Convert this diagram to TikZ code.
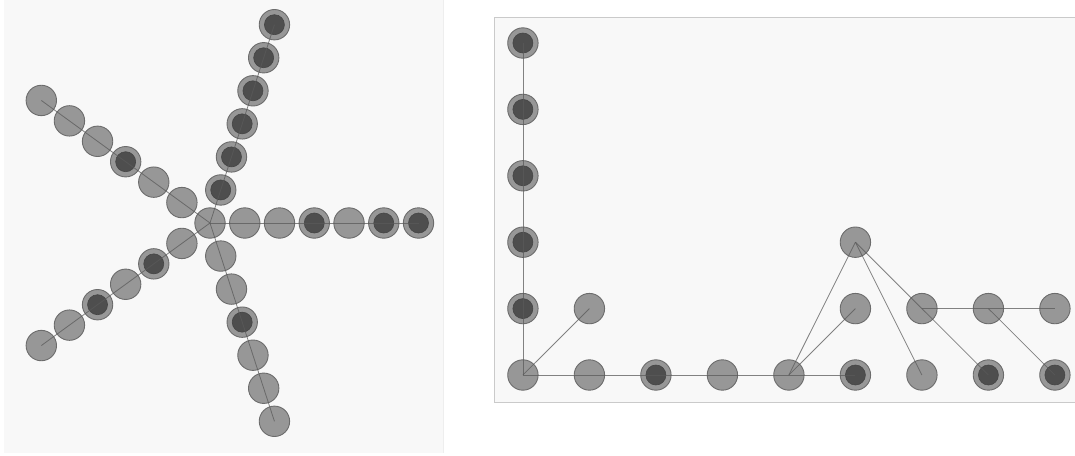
\documentclass[tikz,border=0pt]{standalone}
\begin{document}
\begin{tikzpicture}[x=1pt,y=-1pt,
  outer/.style={circle,fill=nodefill,draw=nodeline,line width=0.9pt,minimum size=30.4pt,inner sep=0pt},
  inner/.style={circle,fill=darkfill,draw=darkline,line width=0.6pt,minimum size=20pt,inner sep=0pt},
  edge/.style={draw=edgecol,line width=0.8pt,draw opacity=0.75},
  panel/.style={fill=panelbg,draw=none}]
\definecolor{nodefill}{HTML}{979797}
\definecolor{nodeline}{HTML}{6C6C6C}
\definecolor{darkfill}{HTML}{4E4E4E}
\definecolor{darkline}{HTML}{454545}
\definecolor{edgecol}{HTML}{5A5A5A}
\definecolor{panelbg}{HTML}{F8F8F8}
\definecolor{panelrule}{HTML}{EEEEEE}
\definecolor{frame}{HTML}{CACACA}
\useasboundingbox[fill=white] (0,0) rectangle (1075,455);
% left panel
\fill[panelbg] (4,0) rectangle (443,453);
\draw[draw=panelrule,line width=0.6pt] (443,0) -- (443,453);
\node[outer] (c) at (210,223) {};
\foreach \a in {0,72,144,216,288}{
  \foreach \k in {1,...,6}{
    \node[outer] (b\a-\k) at ({210+34.75*\k*cos(\a)},{223-34.75*\k*sin(\a)}) {};
  }
}
\foreach \a/\ds in {0/{3,5,6},72/{1,2,3,4,5,6},144/{3},216/{2,4},288/{3}}{
  \foreach \k in \ds{
    \node[inner] (d\a-\k) at (b\a-\k.center) {};
  }
}
\foreach \a in {0,72,144,216,288}{
  \draw[edge] (c.center) -- (b\a-6.center);
}
% right panel
\draw[panel,draw=frame,line width=0.8pt] (494.4,17.3) rectangle (1090,402.3);
\foreach \i/\j in {0/0,0/1,0/2,0/3,0/4,0/5,1/0,1/1,2/0,3/0,4/0,5/0,5/1,5/2,6/0,6/1,7/0,7/1,8/0,8/1}{
  \node[outer] (r\i-\j) at ({522.9+66.5*\i},{375-66.4*\j}) {};
}
\foreach \i/\j in {0/1,0/2,0/3,0/4,0/5,2/0,5/0,7/0,8/0}{
  \node[inner] (s\i-\j) at (r\i-\j.center) {};
}
\draw[edge] (r0-0.center) -- (r0-5.center);
\draw[edge] (r0-0.center) -- (r5-0.center);
\draw[edge] (r0-0.center) -- (r1-1.center);
\draw[edge] (r4-0.center) -- (r5-2.center);
\draw[edge] (r4-0.center) -- (r5-1.center);
\draw[edge] (r5-2.center) -- (r6-0.center);
\draw[edge] (r5-2.center) -- (r6-1.center);
\draw[edge] (r6-1.center) -- (r7-0.center);
\draw[edge] (r6-1.center) -- (r8-1.center);
\draw[edge] (r7-1.center) -- (r8-0.center);
\end{tikzpicture}
\end{document}
